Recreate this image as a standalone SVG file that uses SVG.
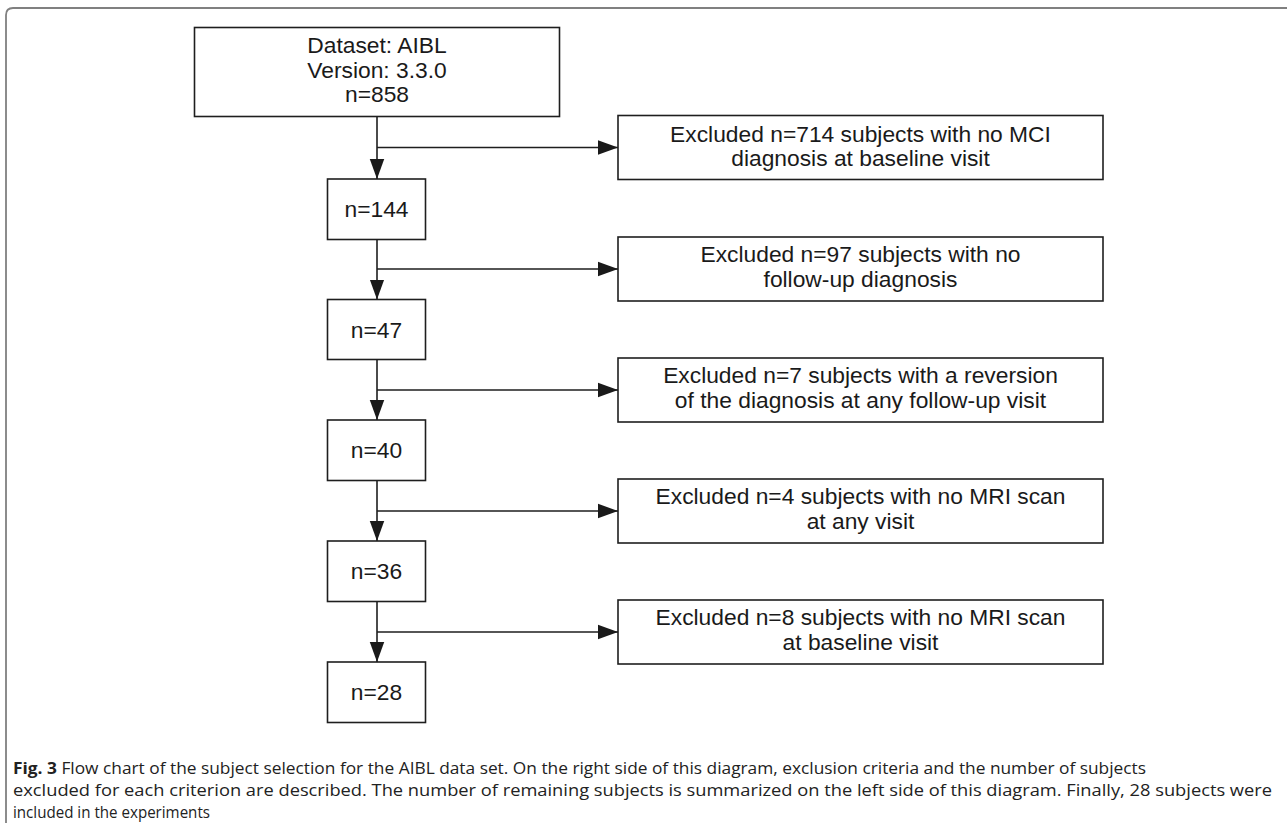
<svg xmlns="http://www.w3.org/2000/svg" width="1287" height="823" viewBox="0 0 1287 823">
<style>
.box{fill:#fff;stroke:#1e1e1e;stroke-width:1.6}
.t{font-family:"Liberation Sans",Arial,sans-serif;font-size:22.8px;fill:#1a1a1a;text-anchor:middle}
.c{stroke:#1e1e1e;stroke-width:1.6;fill:none}
.cap{font-family:"Open Sans","Noto Sans",sans-serif;font-size:16px;fill:#222}
</style>
<defs>
<marker id="ah" markerUnits="userSpaceOnUse" markerWidth="20" markerHeight="16" viewBox="0 0 18 13" refX="18" refY="6.5" orient="auto">
<path d="M0,0 L18,6.5 L0,13 Z" fill="#1a1a1a"/>
</marker>
</defs>
<rect width="1287" height="823" fill="#fff"/>
<path d="M6,823 V15 Q6,8 13,8 H1287" fill="none" stroke="#808080" stroke-width="1.8"/>

<g id="connectors">
<path class="c" d="M377,116.5 V179" marker-end="url(#ah)"/>
<path class="c" d="M377,147.5 H618" marker-end="url(#ah)"/>
<path class="c" d="M377,239.5 V299.5" marker-end="url(#ah)"/>
<path class="c" d="M377,269 H618" marker-end="url(#ah)"/>
<path class="c" d="M377,359.5 V420" marker-end="url(#ah)"/>
<path class="c" d="M377,390 H618" marker-end="url(#ah)"/>
<path class="c" d="M377,480.5 V541" marker-end="url(#ah)"/>
<path class="c" d="M377,511 H618" marker-end="url(#ah)"/>
<path class="c" d="M377,601.5 V662" marker-end="url(#ah)"/>
<path class="c" d="M377,632 H618" marker-end="url(#ah)"/>
</g>

<g id="n858">
<rect class="box" x="194.5" y="27.5" width="365" height="89"/>
<text class="t" x="377" y="53">Dataset: AIBL</text>
<text class="t" x="377" y="78">Version: 3.3.0</text>
<text class="t" x="377" y="102">n=858</text>
</g>
<g id="n144"><rect class="box" x="327.5" y="179" width="98" height="60.5"/><text class="t" x="376.5" y="217">n=144</text></g>
<g id="n47"><rect class="box" x="327.5" y="299.5" width="98" height="60"/><text class="t" x="376.5" y="337.5">n=47</text></g>
<g id="n40"><rect class="box" x="327.5" y="420" width="98" height="60.5"/><text class="t" x="376.5" y="458">n=40</text></g>
<g id="n36"><rect class="box" x="327.5" y="541" width="98" height="60.5"/><text class="t" x="376.5" y="579">n=36</text></g>
<g id="n28"><rect class="box" x="327.5" y="662" width="98" height="60.5"/><text class="t" x="376.5" y="700">n=28</text></g>

<g id="ex1"><rect class="box" x="618" y="115.5" width="485" height="64"/>
<text class="t" x="860.5" y="141.5">Excluded n=714 subjects with no MCI</text>
<text class="t" x="860.5" y="165.5">diagnosis at baseline visit</text></g>
<g id="ex2"><rect class="box" x="618" y="237" width="485" height="64"/>
<text class="t" x="860.5" y="262">Excluded n=97 subjects with no</text>
<text class="t" x="860.5" y="286.5">follow-up diagnosis</text></g>
<g id="ex3"><rect class="box" x="618" y="358" width="485" height="64"/>
<text class="t" x="860.5" y="383">Excluded n=7 subjects with a reversion</text>
<text class="t" x="860.5" y="407.5">of the diagnosis at any follow-up visit</text></g>
<g id="ex4"><rect class="box" x="618" y="479" width="485" height="64"/>
<text class="t" x="860.5" y="504">Excluded n=4 subjects with no MRI scan</text>
<text class="t" x="860.5" y="528.5">at any visit</text></g>
<g id="ex5"><rect class="box" x="618" y="600" width="485" height="64"/>
<text class="t" x="860.5" y="625">Excluded n=8 subjects with no MRI scan</text>
<text class="t" x="860.5" y="649.5">at baseline visit</text></g>

<g id="caption">
<text class="cap" x="13" y="774" textLength="1133" lengthAdjust="spacingAndGlyphs"><tspan font-weight="bold">Fig. 3</tspan> Flow chart of the subject selection for the AIBL data set. On the right side of this diagram, exclusion criteria and the number of subjects</text>
<text class="cap" x="13" y="796" textLength="1259" lengthAdjust="spacingAndGlyphs">excluded for each criterion are described. The number of remaining subjects is summarized on the left side of this diagram. Finally, 28 subjects were</text>
<text class="cap" x="13" y="818" textLength="197" lengthAdjust="spacingAndGlyphs">included in the experiments</text>
</g>
</svg>
